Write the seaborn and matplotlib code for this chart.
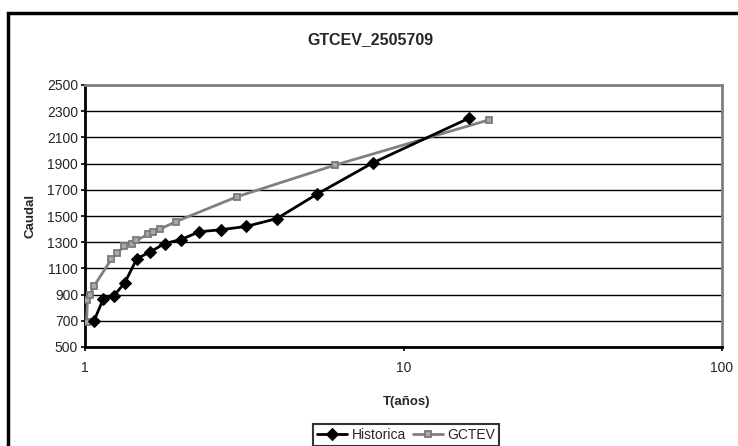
import matplotlib
matplotlib.use("Agg")
import matplotlib.pyplot as plt
from matplotlib.patches import Rectangle
import numpy as np
import pandas as pd
import seaborn as sns

# Historical flows (Weibull return periods) and GCTEV fitted flows
hist_T = [1.067, 1.143, 1.231, 1.333, 1.455, 1.6, 1.778, 2.0, 2.286, 2.667,
          3.2, 4.0, 5.333, 8.0, 16.0]
hist_Q = [700, 870, 890, 990, 1175, 1225, 1290, 1320, 1380, 1395,
          1420, 1480, 1665, 1905, 2245]

gctev_T = [1.011, 1.018, 1.04, 1.067, 1.21, 1.26, 1.33, 1.40, 1.45, 1.58,
           1.63, 1.72, 1.93, 3.0, 6.1, 18.5]
gctev_Q = [690, 855, 900, 965, 1170, 1215, 1270, 1290, 1315, 1360,
           1380, 1400, 1457, 1647, 1889, 2233]

y_ticks = list(range(500, 2501, 200))
x_ticks = [1, 10, 100]
x_tick_labels = ["1", "10", "100"]

title = "GTCEV_2505709"
x_label = "T(años)"
y_label = "Caudal"

sns.set_style("white")
plt.rcParams["font.family"] = ["Liberation Sans", "DejaVu Sans"]

W, H = 738, 446
fig = plt.figure(figsize=(W / 100, H / 100), dpi=100)
ax = fig.add_axes([85 / W, 1 - 347 / H, (722 - 85) / W, (347 - 85) / H])

df_hist = pd.DataFrame({"T": hist_T, "Q": hist_Q})
df_gctev = pd.DataFrame({"T": gctev_T, "Q": gctev_Q})

sns.lineplot(data=df_hist, x="T", y="Q", ax=ax, color="black", lw=2,
             marker="D", markersize=6, markeredgecolor="black",
             markerfacecolor="black", label="Historica", sort=False,
             estimator=None, zorder=4)
sns.lineplot(data=df_gctev, x="T", y="Q", ax=ax, color="#808080", lw=2,
             marker="s", markersize=5, markeredgecolor="#7a7a7a",
             markerfacecolor="#a8a8a8", markeredgewidth=1.3,
             label="GCTEV", sort=False, estimator=None, zorder=3)

ax.set_xscale("log")
ax.set_xlim(1, 100)
ax.set_ylim(500, 2500)
ax.set_yticks(y_ticks)
ax.set_xticks(x_ticks)
ax.set_xticklabels(x_tick_labels)
ax.xaxis.set_minor_locator(matplotlib.ticker.NullLocator())

ax.grid(axis="y", color="black", lw=1)
ax.grid(axis="x", visible=False)
ax.set_axisbelow(True)

for side in ("left", "bottom"):
    ax.spines[side].set_color("black")
    ax.spines[side].set_linewidth(2)
for side in ("top", "right"):
    ax.spines[side].set_color("#808080")
    ax.spines[side].set_linewidth(2)

ax.tick_params(axis="both", which="major", direction="out", length=3,
               width=1.2, color="black", labelsize=10, pad=2,
               left=True, bottom=True)
ax.tick_params(axis="x", pad=7)

ax.set_xlabel("")
ax.set_ylabel("")
fig.text(407 / W, 1 - 402 / H, x_label, ha="center", va="center",
         fontsize=9.5, fontweight="bold")
fig.text(31 / W, 1 - 216 / H, y_label, ha="center", va="center",
         rotation=90, fontsize=9.5, fontweight="bold")
fig.text(370 / W, 1 - 40 / H, title, ha="center", va="center",
         fontsize=11.5, fontweight="bold")

leg = ax.legend(loc="upper center", bbox_to_anchor=(406 / W, 1 - 424 / H),
                bbox_transform=fig.transFigure, ncol=2, frameon=True,
                fancybox=False, fontsize=10, handlelength=2.2,
                columnspacing=0.5, handletextpad=0.3, borderpad=0.3,
                borderaxespad=0)
leg.get_frame().set_edgecolor("black")
leg.get_frame().set_linewidth(1.5)

# outer chart frame
fig.patches.append(Rectangle((8 / W, -0.2), 1.3, (1 - 13 / H) + 0.2,
                             transform=fig.transFigure, fill=False,
                             edgecolor="black", lw=2.5, zorder=10))

fig.savefig("out.png", dpi=100)
